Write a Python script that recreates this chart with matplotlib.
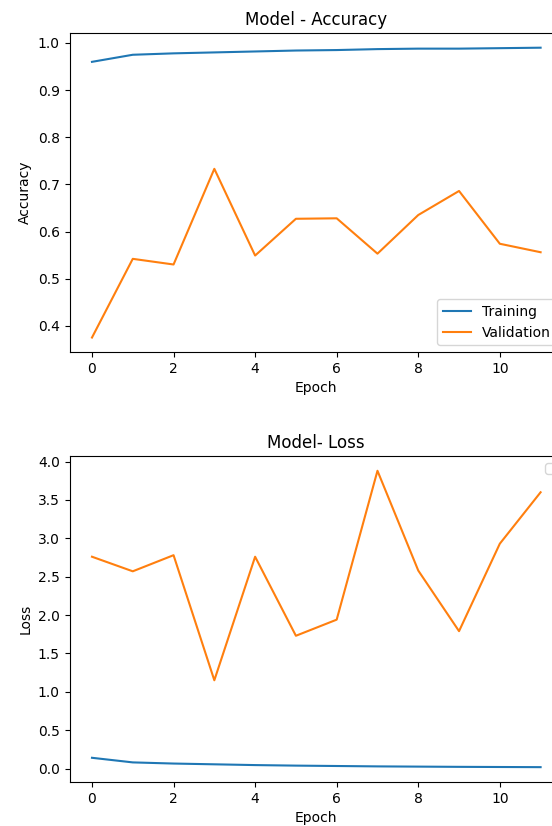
import matplotlib
matplotlib.use("Agg")
import matplotlib.pyplot as plt

epochs = list(range(12))
train_acc = [0.960, 0.975, 0.978, 0.980, 0.982, 0.984, 0.985, 0.987, 0.988, 0.988, 0.989, 0.990]
val_acc = [0.375, 0.542, 0.530, 0.733, 0.549, 0.627, 0.628, 0.553, 0.635, 0.686, 0.574, 0.556]
train_loss = [0.14, 0.08, 0.065, 0.055, 0.045, 0.038, 0.033, 0.028, 0.025, 0.022, 0.020, 0.018]
val_loss = [2.76, 2.57, 2.78, 1.15, 2.76, 1.73, 1.94, 3.88, 2.58, 1.79, 2.93, 3.60]

fig = plt.figure(figsize=(5.52, 8.26), dpi=100)
ax1 = fig.add_axes([0.126, 0.5738, 0.894, 0.386])
ax2 = fig.add_axes([0.126, 0.0533, 0.894, 0.3947])

ax1.plot(epochs, train_acc, label="Training")
ax1.plot(epochs, val_acc, label="Validation")
ax1.set_title("Model - Accuracy")
ax1.set_xlabel("Epoch")
ax1.set_ylabel("Accuracy")
ax1.legend(loc="lower right")

ax2.plot(epochs, train_loss)
ax2.plot(epochs, val_loss)
ax2.set_title("Model- Loss")
ax2.set_xlabel("Epoch")
ax2.set_ylabel("Loss")
ax2.legend(handles=[], loc="upper right")

fig.savefig("out.png", dpi=100)
